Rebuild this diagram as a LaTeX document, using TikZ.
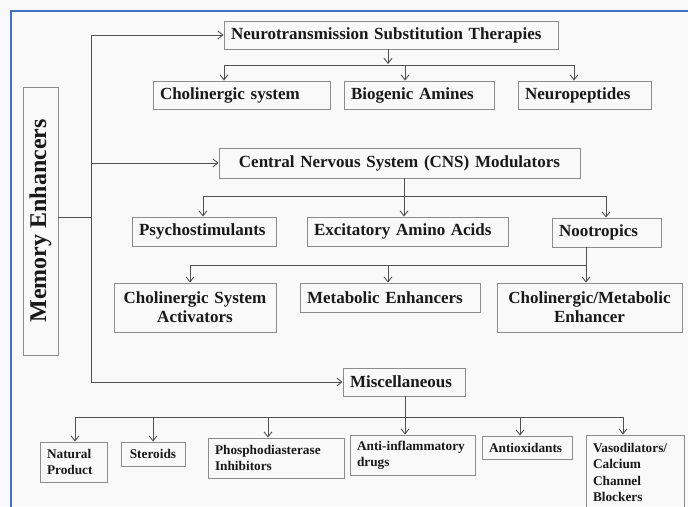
\documentclass[tikz,border=0pt]{standalone}
\usepackage{fontspec}
\setmainfont{Liberation Serif}
\usetikzlibrary{arrows.meta}
\definecolor{framebl}{RGB}{70,112,196}
\definecolor{boxgr}{RGB}{140,140,140}
\definecolor{linegr}{RGB}{80,80,80}
\definecolor{bggr}{RGB}{249,249,249}

\begin{document}
\begin{tikzpicture}[x=1pt,y=-1pt,
	box/.style={draw=boxgr, line width=0.9pt, inner xsep=7pt, inner ysep=0pt, text=black!90, align=left,
		font=\bfseries\fontsize{17}{19}\selectfont},
	small/.style={font=\bfseries\fontsize{13.3}{16.3}\selectfont},
	line/.style={draw=linegr, line width=0.9pt},
	arr/.style={line, -{Straight Barb[length=5pt,width=8pt]}}]
\clip (0,0) rectangle (688,506);
\fill[bggr] (0,0) rectangle (688,506);
\draw[framebl, line width=1.5pt] (11,510) -- (11,11) -- (690,11);
%
\node[box, rotate=90, align=center, minimum width=268pt, minimum height=35pt, inner xsep=0pt,
	font=\bfseries\fontsize{24}{26}\selectfont] (mem) at (40.5,221) {Memory Enhancers};
%
\node[box, text width=320pt, minimum height=28pt] (nst) at (391,35) {Neurotransmission Substitution Therapies};
	\node[box, text width=163pt, minimum height=28pt] (chol) at (241.5,95) {Cholinergic system};
	\node[box, text width=136pt, minimum height=28pt] (biog) at (419,95) {Biogenic Amines};
	\node[box, text width=119pt, minimum height=28pt] (neur) at (584.5,95) {Neuropeptides};
%
\node[box, align=center, text width=347pt, minimum height=30pt] (cns) at (399.5,163) {Central Nervous System (CNS) Modulators};
	\node[box, text width=130pt, minimum height=29pt] (psy) at (204,231.5) {Psychostimulants};
	\node[box, text width=187pt, minimum height=29pt] (exc) at (407.5,231.5) {Excitatory Amino Acids};
	\node[box, text width=95pt, minimum height=29pt] (noot) at (606.5,232.5) {Nootropics};
	\node[box, align=center, text width=148pt, minimum height=49pt] (csa) at (195,307.5) {Cholinergic System\\Activators};
	\node[box, text width=166pt, minimum height=29pt] (meta) at (390,297.5) {Metabolic Enhancers};
	\node[box, align=center, text width=171pt, minimum height=49pt] (cme) at (589.5,307.5) {Cholinergic/Metabolic\\Enhancer};
%
\node[box, text width=108pt, minimum height=28pt] (misc) at (404,382) {Miscellaneous};
	\node[box, small, text width=53pt, minimum height=40pt] (nat) at (73.5,462) {Natural\\Product};
	\node[box, small, align=center, text width=50pt, minimum height=24pt] (ster) at (153,454) {Steroids};
	\node[box, small, text width=122pt, minimum height=40pt] (phos) at (276,458) {Phosphodiasterase\\Inhibitors};
	\node[box, small, text width=111pt, minimum height=40pt] (anti) at (412.5,455) {Anti-inflammatory\\drugs};
	\node[box, small, text width=76pt, minimum height=23pt] (antiox) at (527,447.5) {Antioxidants};
	\node[box, small, text width=84pt, minimum height=75pt] (vaso) at (635,472.5) {Vasodilators/\\Calcium\\Channel\\Blockers};
%
\coordinate (t1) at (91,35);
\draw[line] ([yshift=4pt]mem.south) -- ([yshift=4pt]mem.south -| t1);
\draw[line] (t1) -- (misc.west -| t1);
\draw[arr] (t1) -- (nst.west);
\draw[arr] (cns.west -| t1) -- (cns.west);
\draw[arr] (misc.west -| t1) -- (misc.west);
%
\draw[arr] (388,0 |- nst.south) -- (388,64);
\draw[line] (224,65) -- (574,65);
	\draw[arr] (224,65) -- (224,0 |- chol.north);
	\draw[arr] (405,65) -- (405,0 |- biog.north);
	\draw[arr] (574,65) -- (574,0 |- neur.north);
%
\draw[arr] (404,0 |- cns.south) -- (404,0 |- exc.north);
\draw[line] (203,196) -- (606,196);
	\draw[arr] (203,196) -- (203,0 |- psy.north);
	\draw[arr] (606,196) -- (606,0 |- noot.north);
\draw[line] (586,0 |- noot.south) -- (586,265);
\draw[line] (190,265) -- (586,265);
	\draw[arr] (190,265) -- (190,0 |- csa.north);
	\draw[arr] (388,265) -- (388,0 |- meta.north);
	\draw[arr] (586,265) -- (586,0 |- cme.north);
%
\draw[arr] (405,0 |- misc.south) -- (405,0 |- anti.north);
\draw[line] (75,417) -- (623,417);
	\draw[arr] (75,417) -- (75,0 |- nat.north);
	\draw[arr] (153,417) -- (153,0 |- ster.north);
	\draw[arr] (268,417) -- (268,0 |- phos.north);
	\draw[arr] (520,417) -- (520,0 |- antiox.north);
	\draw[arr] (623,417) -- (623,0 |- vaso.north);
\end{tikzpicture}
\end{document}
